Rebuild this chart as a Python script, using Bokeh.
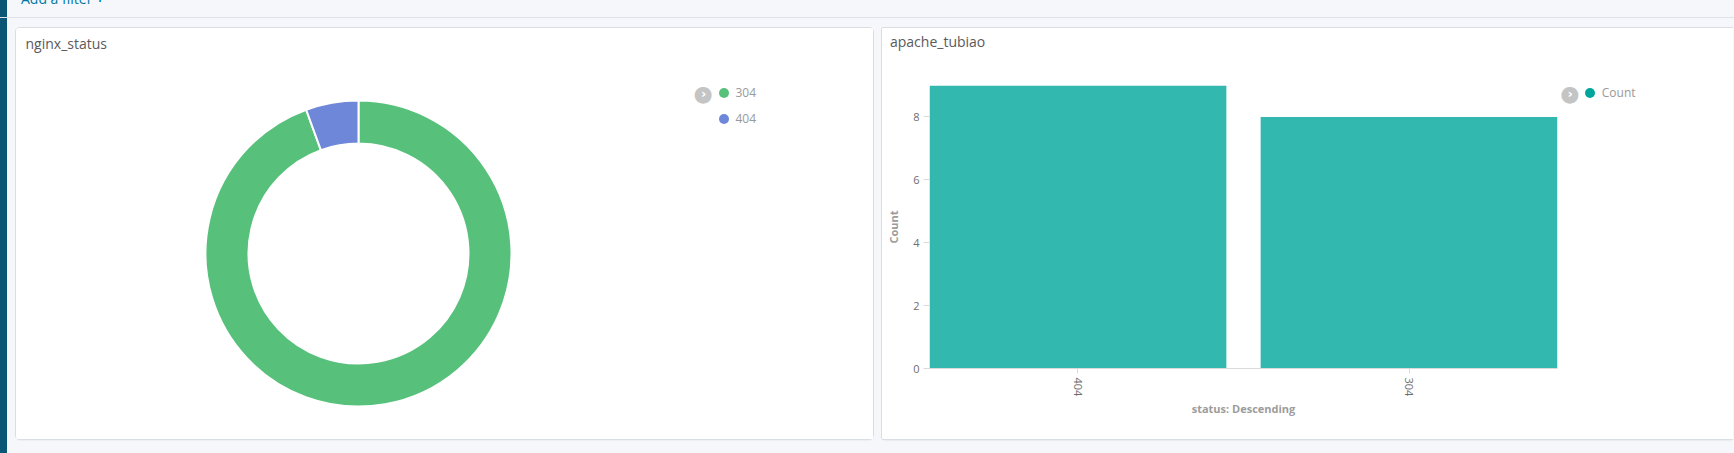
import math
from bokeh.plotting import figure
from bokeh.models import (ColumnDataSource, Range1d, FactorRange, Legend, LegendItem, Label,
                          FixedTicker, Div, Spacer, GlobalInlineStyleSheet)
from bokeh.layouts import row, column
from bokeh.embed import file_html
from bokeh.resources import INLINE

# ---------------- data ----------------
pie_title = "nginx_status"
pie_labels = ["304", "404"]
pie_counts = [17, 1]
pie_colors = ["#57c17b", "#6f87d8"]

bar_title = "apache_tubiao"
bar_status = ["404", "304"]
bar_counts = [9, 8]
bar_series = "Count"
bar_color = "#00a69b"
y_ticks = [0, 2, 4, 6, 8]
x_axis_title = "status: Descending"
y_axis_title = "Count"
filter_text = "Add a filter"

# ---------------- style / layout constants ----------------
FONT = "Open Sans"
TITLE_COLOR = "#5a5a5a"
LEG_COLOR = "#999999"
TICK_COLOR = "#6e6e6e"
AXIS_TITLE_COLOR = "#9c9c9c"
LINE_COLOR = "#dadada"
PANEL_STYLE = {"border-radius": "4px", "background-color": "white",
               "box-shadow": "0 0 0 1px #d9dde4, 0 2px 2px -1px rgba(0,0,0,0.12)"}
PANEL2_STYLE = {"background-color": "white",
                "box-shadow": "-1px 0 0 0 #d9dde4, 0 -1px 0 0 #d9dde4, 0 1px 0 0 #d9dde4, 0 2px 2px -1px rgba(0,0,0,0.12)"}

P1_W, P1_H = 857, 411
CX, CY = 342, 225          # donut centre inside panel (px from top-left)
R_OUT, R_IN = 153, 110
P2_W = 851
P2_HEAD = 40               # height of the title strip of the right panel
P2_H = 411 - P2_HEAD
BAR_FIG_W = 678
BAR_W = 0.8965


def chevron(fig, x, y):
    fig.add_layout(Label(x=x, y=y, x_units="screen", y_units="screen", text="\u25cf",
                         text_align="center", text_baseline="middle", text_color="#c4c4c4",
                         text_font="DejaVu Sans", text_font_size="22px"))
    fig.add_layout(Label(x=x + 0.5, y=y, x_units="screen", y_units="screen", text="\u203a",
                         text_align="center", text_baseline="middle", text_color="white",
                         text_font="DejaVu Sans", text_font_size="13px",
                         text_font_style="bold"))


def make_legend(items, loc):
    return Legend(items=items, location=loc, orientation="vertical",
                  glyph_width=25, glyph_height=25, label_standoff=-3, spacing=1,
                  padding=0, margin=0, label_height=20,
                  label_text_font=FONT, label_text_font_size="12px",
                  label_text_color=LEG_COLOR, background_fill_alpha=0,
                  border_line_color=None)


# ---------------- donut ----------------
total = sum(pie_counts)
cum = 0
starts, ends = [], []
for c in pie_counts:
    starts.append(math.pi / 2 - 2 * math.pi * cum / total)
    cum += c
    ends.append(math.pi / 2 - 2 * math.pi * cum / total)
pie_src = ColumnDataSource(dict(label=pie_labels, count=pie_counts, color=pie_colors,
                                start=starts, end=ends))

p1 = figure(width=P1_W, height=P1_H, output_backend="svg", toolbar_location=None,
            x_range=Range1d(-CX, P1_W - CX), y_range=Range1d(-(P1_H - CY), CY),
            x_axis_location=None, y_axis_location=None,
            min_border=0, outline_line_color=None, styles=PANEL_STYLE)
p1.frame_align = False
p1.grid.visible = False
p1.annular_wedge(x=0, y=0, inner_radius=R_IN, outer_radius=R_OUT, start_angle="start",
                 end_angle="end", direction="clock", fill_color="color",
                 line_color="white", line_width=2, source=pie_src)
# zero-size markers: they only provide the round legend swatches
leg1_r = p1.scatter(x=0, y=0, size=0, marker="circle", fill_color="color",
                    line_color=None, source=pie_src)
items1 = [LegendItem(label=lab, renderers=[leg1_r], index=i) for i, lab in enumerate(pie_labels)]
p1.add_layout(make_legend(items1, (694.5, 308)))
chevron(p1, 686.7, 346.3)
p1.add_layout(Label(x=9, y=395.7, x_units="screen", y_units="screen", text=pie_title,
                    text_align="left", text_baseline="middle", text_font=FONT,
                    text_font_size="14px", text_color=TITLE_COLOR))

# ---------------- bar chart ----------------
bar_src = ColumnDataSource(dict(status=bar_status, count=bar_counts))
p2 = figure(width=BAR_FIG_W, height=P2_H, output_backend="svg", toolbar_location=None,
            x_range=FactorRange(factors=bar_status, range_padding=-(1 - BAR_W) / 2),
            y_range=Range1d(0, max(bar_counts)),
            min_border_left=47, min_border_right=3, min_border_top=17,
            min_border_bottom=71, outline_line_color=None)
p2.frame_align = False
p2.vbar(x="status", top="count", width=BAR_W, source=bar_src,
        fill_color=bar_color, fill_alpha=0.8, line_color=None)
p2.grid.grid_line_color = None

xa = p2.xaxis[0]
xa.axis_label = x_axis_title
xa.major_label_orientation = "vertical"
xa.major_label_standoff = 4
xa.major_tick_out = 5
xa.major_tick_in = 0
xa.axis_label_standoff = 2

ya = p2.yaxis[0]
ya.ticker = FixedTicker(ticks=y_ticks)
ya.axis_label = y_axis_title
ya.major_label_standoff = 4
ya.major_tick_out = 6
ya.major_tick_in = 0
ya.minor_tick_line_color = None
ya.axis_line_color = None
ya.axis_label_standoff = 9

for ax in (xa, ya):
    ax.major_label_text_font = FONT
    ax.major_label_text_font_size = "11px"
    ax.major_label_text_color = TICK_COLOR
    ax.axis_label_text_font = FONT
    ax.axis_label_text_font_size = "11px"
    ax.axis_label_text_font_style = "bold"
    ax.axis_label_text_color = AXIS_TITLE_COLOR
    ax.major_tick_line_color = LINE_COLOR
xa.axis_line_color = LINE_COLOR

# legend strip to the right of the bar chart
LEG_W = P2_W - BAR_FIG_W
p3 = figure(width=LEG_W, height=P2_H, output_backend="svg", toolbar_location=None,
            x_range=Range1d(0, LEG_W), y_range=Range1d(0, P2_H),
            x_axis_location=None, y_axis_location=None,
            min_border=0, outline_line_color=None)
p3.frame_align = False
p3.grid.visible = False
leg_src = ColumnDataSource(dict(series=[bar_series], color=[bar_color]))
leg2_r = p3.scatter(x=0, y=0, size=0, marker="circle", fill_color="color",
                    line_color=None, source=leg_src)
p3.add_layout(make_legend([LegendItem(label=bar_series, renderers=[leg2_r], index=0)],
                          (16.8, 333.8)))
chevron(p3, 9.3, 346.3)

title2 = Div(text=f'<div style="padding:4px 0 0 8px; line-height:19px; white-space:nowrap">{bar_title}</div>',
             width=P2_W, height=P2_HEAD, margin=0,
             styles={"font-family": FONT, "font-size": "14px", "color": TITLE_COLOR})
panel2 = column(title2, row(p2, p3), styles=PANEL2_STYLE)

# ---------------- page ----------------
css = GlobalInlineStyleSheet(css="body { background: linear-gradient(to right, #0c5675 0px, #0c5675 7px, #f5f7fa 7px) !important; }")
top = Div(text=f'<div style="position:relative; top:-11px; left:21px; line-height:19px; white-space:nowrap">'
               f'{filter_text} <b>+</b></div>',
          width=1734, height=18, margin=0,
          styles={"font-family": FONT, "font-size": "14px", "color": "#0079a5",
                  "overflow": "hidden",
                  "background": "linear-gradient(to bottom, rgba(0,0,0,0) 17px, #dde2e8 17px)"})
layout = column(top, Spacer(width=10, height=10),
                row(Spacer(width=16, height=10), p1, Spacer(width=9, height=10), panel2),
                stylesheets=[css])

open("out.html", "w").write(file_html(layout, INLINE))
